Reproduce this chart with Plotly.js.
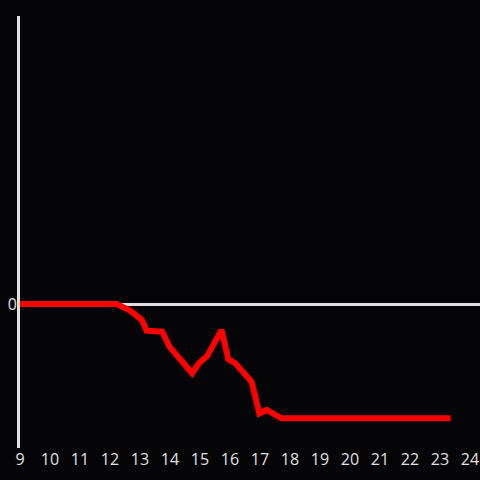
<!DOCTYPE html>
<html>
<head>
<meta charset="utf-8">
<script src="https://cdn.plot.ly/plotly-3.0.1.min.js"></script>
<style>html,body{margin:0;padding:0;background:#050508;}#chart{width:480px;height:480px;}</style>
</head>
<body>
<div id="chart"></div>
<script>
const hours = [9, 12.22, 12.67, 12.89, 13.06, 13.22, 13.74, 13.98, 14.74, 14.97, 15.24, 15.72, 15.94, 16.17, 16.72, 16.98, 17.22, 17.72, 23.35];
const values = [0, 0, -0.046, -0.076, -0.11, -0.185, -0.192, -0.296, -0.481, -0.41, -0.361, -0.18, -0.382, -0.41, -0.54, -0.76, -0.736, -0.794, -0.794];
const xTicks = [9,10,11,12,13,14,15,16,17,18,19,20,21,22,23,24];
const yTicks = [0];

Plotly.newPlot('chart', [{
  x: hours, y: values, type: 'scatter', mode: 'lines',
  line: {color: '#ff0000', width: 6}, hoverinfo: 'none'
}], {
  width: 480, height: 480,
  margin: {l: 20, r: 0, t: 16, b: 32},
  paper_bgcolor: '#050508', plot_bgcolor: '#050508',
  showlegend: false,
  font: {color: '#e0e0e0', size: 16, family: 'Open Sans, sans-serif'},
  xaxis: {range: [9, 24.333], tickvals: xTicks, ticktext: xTicks.map(String),
          showgrid: false, zeroline: false, showline: false, ticks: '', fixedrange: true,
          ticklabelstandoff: 0},
  yaxis: {range: [-1, 2], tickvals: yTicks, ticktext: ['0'], showgrid: false,
          zeroline: true, zerolinecolor: '#e0e0e0', zerolinewidth: 3,
          showline: true, linecolor: '#e0e0e0', linewidth: 3, ticks: '', ticklabelstandoff: -3}
}, {staticPlot: true});
</script>
</body>
</html>
